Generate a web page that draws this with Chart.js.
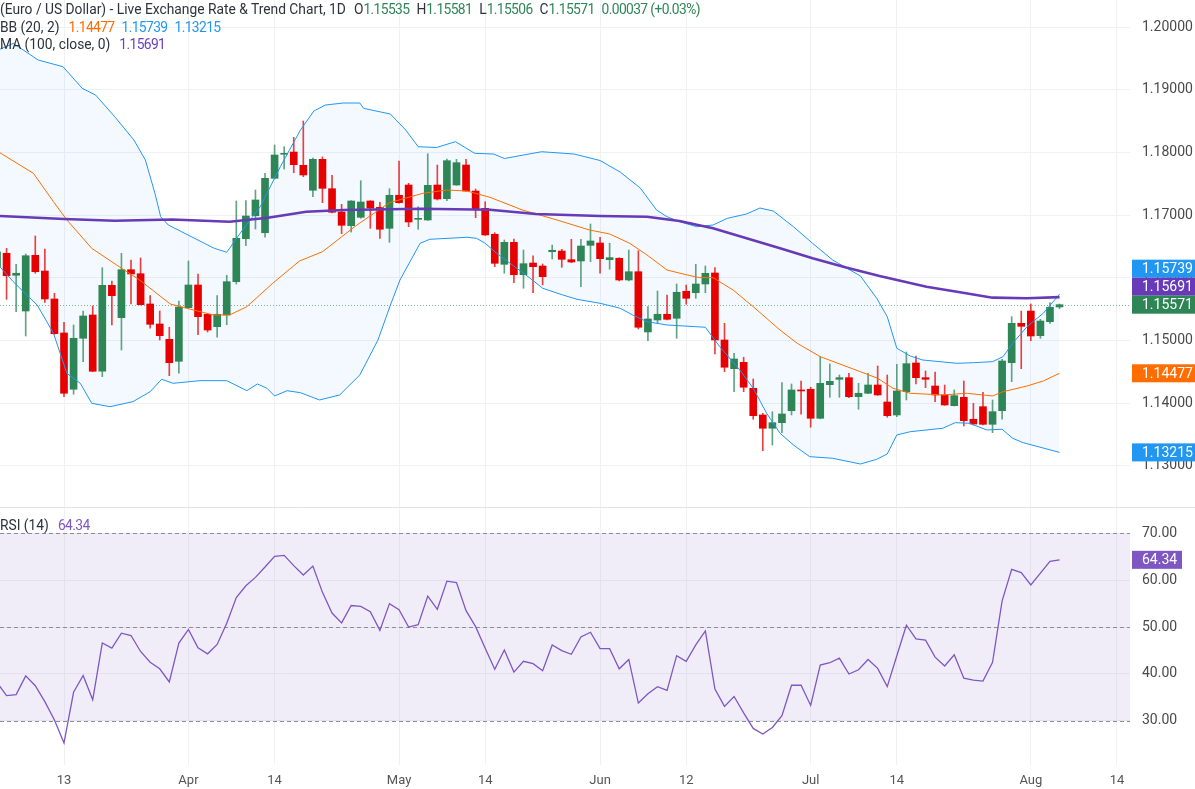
<!DOCTYPE html>
<html><head><meta charset="utf-8">
<script src="https://cdn.jsdelivr.net/npm/chart.js@4.4.1/dist/chart.umd.min.js"></script>
<style>
html,body{margin:0;padding:0;background:#fff;width:1195px;height:789px;overflow:hidden;font-family:Roboto,"Noto Sans",sans-serif;}
#top{position:absolute;left:0;top:0;width:1195px;height:507px;}
#bot{position:absolute;left:0;top:507px;width:1195px;height:282px;}
.lg{position:absolute;left:0;font-size:13.8px;color:#2f323b;white-space:pre;line-height:18px;z-index:5;}
.v{letter-spacing:-0.6px}
.g{color:#2e8556}.k{margin-left:7px}
.o{color:#ff6d00}.b{color:#2196f3}.p{color:#6a3fc0}.r{color:#7e57c2}
</style></head><body>
<div id="top"><canvas id="c1"></canvas></div>
<div id="bot"><canvas id="c2"></canvas></div>
<div class="lg" style="top:0px">(Euro / US Dollar) - Live Exchange Rate &amp; Trend Chart, 1D<span class="k" style="margin-left:8px">O</span><span class="g v">1.15535</span><span class="k">H</span><span class="g v">1.15581</span><span class="k">L</span><span class="g v">1.15506</span><span class="k">C</span><span class="g v">1.15571</span><span class="g v" style="margin-left:7px">0.00037 (+0.03%)</span></div>
<div class="lg" style="top:17.5px">BB (20, 2)<span class="o v" style="margin-left:9px">1.14477</span><span class="b v" style="margin-left:7px">1.15739</span><span class="b v" style="margin-left:7px">1.13215</span></div>
<div class="lg" style="top:35px">MA (100, close, 0)<span class="p v" style="margin-left:9px">1.15691</span></div>
<div class="lg" style="top:516px">RSI (14)<span class="r v" style="margin-left:9px">64.34</span></div>
<script>
// ---- x axis (trading-day index, 0 = Mar 13) ----
const firstIndex = -7;
const tickIdx    = [0, 13, 22, 35, 44, 56, 65, 78, 87, 101, 110];
const tickLabels = ['13','Apr','14','May','14','Jun','12','Jul','14','Aug','14'];
const priceTicks = [1.13,1.14,1.15,1.16,1.17,1.18,1.19,1.20];
const rsiTicks   = [30,40,50,60,70];

// ---- candles (idx -7 .. 104) ----
const opens = [1.16177,1.16391,1.16040,1.15470,1.16359,1.16108,1.15662,
1.15120,1.14222,1.15035,1.15407,1.14509,1.15880,1.15364,1.16129,1.16065,1.15582,1.15263,1.15019,1.14668,1.15523,1.15885,1.15418,1.15220,1.15407,1.15938,1.16624,1.16990,1.16719,
1.17587,1.17970,1.18006,1.17794,1.17396,1.17890,1.17421,1.17049,1.16831,1.16965,1.17225,1.17124,1.16789,1.17316,1.17480,1.16933,1.16922,1.17480,1.17262,1.17480,1.17799,1.17384,
1.17108,1.16694,1.16215,1.16566,1.16049,1.16236,1.16188,1.16416,1.16427,1.16289,1.16268,1.16518,1.16555,1.16289,1.16311,1.15965,1.16097,1.15136,1.15327,1.15418,1.15354,
1.15785,1.15762,1.15901,1.16077,1.15008,1.14550,1.14652,1.14238,1.13812,1.13600,1.13689,1.13880,1.14211,1.14222,1.13759,1.14295,1.14381,1.14407,1.14104,1.14158,1.14290,1.14019,
1.13812,1.14183,1.14641,1.14407,1.14274,1.14131,1.13960,1.14094,1.13743,1.13944,1.13663,1.13880,1.14646,1.15274,1.15470,1.15077,1.15300,1.15535];
const highs = [1.16475,1.16470,1.16215,1.16380,1.16667,1.16459,1.15753,
1.15290,1.15247,1.15470,1.15550,1.16161,1.15949,1.16391,1.16284,1.16316,1.15715,1.15470,1.15211,1.15630,1.16268,1.16061,1.15420,1.15715,1.16040,1.17225,1.17230,1.17400,1.17667,
1.18118,1.18091,1.18241,1.18501,1.17910,1.17927,1.17635,1.17172,1.17230,1.17549,1.17230,1.17204,1.17421,1.17863,1.17507,1.17134,1.17979,1.17799,1.17895,1.17890,1.17890,1.17416,
1.17214,1.16719,1.16603,1.16619,1.16443,1.16352,1.16220,1.16523,1.16455,1.16614,1.16614,1.16858,1.16646,1.16550,1.16321,1.16443,1.16432,1.15539,1.15789,1.15726,1.15901,
1.15885,1.16215,1.16188,1.16161,1.15274,1.14796,1.14732,1.14386,1.13838,1.13864,1.14327,1.14306,1.14354,1.14254,1.14742,1.14625,1.14450,1.14477,1.14317,1.14477,1.14593,1.14450,
1.14620,1.14817,1.14753,1.14514,1.14498,1.14290,1.14211,1.14354,1.13998,1.14174,1.14051,1.14700,1.15380,1.15470,1.15582,1.15338,1.15603,1.15581];
const lows = [1.16124,1.15657,1.15459,1.15072,1.16072,1.15609,1.15100,
1.14104,1.14142,1.14662,1.14500,1.14423,1.15247,1.14848,1.15582,1.15565,1.15195,1.15008,1.14439,1.14477,1.15515,1.15093,1.15136,1.15051,1.15252,1.15901,1.16512,1.16778,1.16646,
1.17576,1.17735,1.17676,1.17612,1.17293,1.17198,1.17035,1.16703,1.16730,1.16950,1.16789,1.16630,1.16566,1.17190,1.16815,1.16774,1.16915,1.17241,1.17230,1.17475,1.17380,1.16959,
1.16675,1.16177,1.16072,1.15922,1.15833,1.15762,1.15885,1.16300,1.16167,1.16240,1.15858,1.16257,1.16072,1.16136,1.15949,1.15950,1.15183,1.14997,1.15274,1.15330,1.15035,
1.15578,1.15673,1.15762,1.14785,1.14502,1.14183,1.14183,1.13743,1.13242,1.13333,1.13530,1.13812,1.13823,1.13616,1.13750,1.14094,1.14094,1.14088,1.13903,1.14150,1.14125,1.13775,
1.13785,1.14051,1.14306,1.14247,1.14024,1.13965,1.13955,1.13636,1.13652,1.13655,1.13530,1.13743,1.14343,1.14550,1.14997,1.15035,1.15274,1.15506];
const closes = [1.16416,1.16033,1.16072,1.16352,1.16097,1.15662,1.15108,
1.14158,1.15035,1.15391,1.14509,1.15880,1.15715,1.16129,1.16061,1.15571,1.15258,1.15077,1.14646,1.15534,1.15885,1.15380,1.15167,1.15418,1.15938,1.16630,1.16986,1.17241,1.17587,
1.17959,1.17986,1.17804,1.17640,1.17890,1.17427,1.17045,1.16837,1.17225,1.17209,1.17113,1.16774,1.17316,1.17198,1.16890,1.16943,1.17475,1.17257,1.17868,1.17836,1.17384,1.17097,
1.16683,1.16231,1.16566,1.16049,1.16225,1.16177,1.16018,1.16439,1.16295,1.16252,1.16507,1.16587,1.16305,1.16321,1.15965,1.16097,1.15211,1.15343,1.15418,1.15338,1.15769,
1.15673,1.15901,1.16072,1.15008,1.14573,1.14705,1.14254,1.13801,1.13600,1.13689,1.13828,1.14211,1.14195,1.13759,1.14317,1.14349,1.14407,1.14104,1.14158,1.14290,1.14131,1.13801,
1.14195,1.14630,1.14407,1.14381,1.14131,1.13971,1.14120,1.13721,1.13668,1.13663,1.13864,1.14673,1.15274,1.15226,1.15072,1.15311,1.15530,1.15571];

// ---- indicators: [index, value] ----
const ma100 = [[-6.7,1.16986],[0,1.16938],[5.3,1.16911],[11.3,1.16930],[17.3,1.16895],[21.3,1.16959],[25.3,1.17054],[29.2,1.17081],[37.3,1.17102],[44.5,1.17086],[49.3,1.17018],[56,1.16986],[60.9,1.16974],[64.3,1.16906],[67.8,1.16789],[71.3,1.16630],[74.8,1.16470],[78.2,1.16311],[81.8,1.16161],[85.2,1.16029],[90.1,1.15858],[93.6,1.15769],[97,1.15683],[100.6,1.15673],[104,1.15691]];
const bbMid = [[-6.7,1.17995],[-3.2,1.17667],[-1.1,1.17214],[0.3,1.16922],[2.9,1.16470],[5.5,1.16204],[7.9,1.15965],[11.1,1.15582],[12.8,1.15514],[15.6,1.15407],[17.3,1.15407],[19.1,1.15539],[21.8,1.15912],[24.6,1.16268],[27,1.16416],[30.6,1.16842],[34,1.17198],[37.5,1.17348],[40,1.17400],[42.1,1.17384],[44.5,1.17284],[47.9,1.17081],[51.5,1.16922],[54.9,1.16762],[57,1.16699],[59.1,1.16550],[60.9,1.16364],[63,1.16124],[65.1,1.16045],[66.4,1.16002],[67.8,1.16002],[69.9,1.15805],[72,1.15539],[74.8,1.15167],[76.6,1.14955],[79,1.14742],[81.8,1.14582],[83.2,1.14502],[85,1.14397],[86.6,1.14238],[88.4,1.14158],[91.8,1.14131],[94.3,1.14158],[97,1.14115],[98.1,1.14183],[100.6,1.14274],[102.3,1.14354],[104,1.14477]];
const bbUpper = [[-6.7,1.19644],[-5.3,1.19740],[-2.7,1.19474],[-0.1,1.19367],[1.9,1.19022],[3.3,1.18915],[5.3,1.18569],[7.3,1.18198],[8.5,1.17879],[9.5,1.17348],[10.1,1.16974],[10.9,1.16842],[13.3,1.16656],[15.7,1.16470],[17,1.16407],[18.4,1.16710],[20.5,1.17134],[22.6,1.17772],[24.7,1.18357],[26.1,1.18660],[27.3,1.18756],[29.2,1.18788],[30.9,1.18788],[31.3,1.18703],[34.1,1.18612],[35.7,1.18357],[37,1.18091],[38.9,1.18078],[40.9,1.18171],[42.9,1.17986],[44.9,1.17974],[46,1.17903],[49.9,1.18011],[53.3,1.17974],[56,1.17871],[58.1,1.17687],[60.2,1.17432],[61.9,1.17081],[63,1.16974],[64.3,1.16895],[66.1,1.16815],[67.8,1.16842],[69.3,1.16949],[71.3,1.17018],[72.7,1.17113],[74.1,1.17065],[76.2,1.16815],[78.2,1.16550],[80.3,1.16284],[83.2,1.16029],[84.9,1.15673],[86,1.15380],[87,1.14876],[88.4,1.14753],[89.7,1.14689],[93.3,1.14636],[95,1.14646],[97,1.14662],[98.1,1.14742],[99.1,1.14955],[100.6,1.15220],[102.3,1.15434],[104,1.15739]];
const bbLower = [[-6.7,1.16177],[-5.3,1.15938],[-3.9,1.15726],[-2.8,1.15566],[-1.1,1.15115],[0.3,1.14477],[1.7,1.14317],[2.9,1.13998],[4.8,1.13944],[7.2,1.14024],[9,1.14183],[10.2,1.14381],[11.4,1.14317],[14.2,1.14359],[17,1.14359],[19.1,1.14199],[20.2,1.14306],[21.2,1.14238],[22,1.14115],[23.3,1.14199],[24.7,1.14167],[26.7,1.14051],[28.8,1.14131],[30.9,1.14450],[32.8,1.15008],[34.1,1.15566],[35.1,1.15965],[37.2,1.16550],[38.2,1.16614],[42.1,1.16646],[43.1,1.16630],[44,1.16550],[45.2,1.16391],[47.3,1.16152],[48.7,1.15992],[50,1.15833],[52.1,1.15726],[53.6,1.15657],[56,1.15593],[58.1,1.15514],[59.4,1.15407],[60.9,1.15300],[63,1.15247],[67,1.15211],[68.5,1.14901],[70.6,1.14530],[72,1.14238],[73.4,1.13839],[74.8,1.13520],[76.2,1.13333],[77.9,1.13147],[80.3,1.13121],[83.2,1.13030],[84.9,1.13105],[86,1.13190],[87,1.13493],[88.4,1.13545],[91.8,1.13600],[93.1,1.13689],[94.6,1.13679],[96.4,1.13573],[98,1.13584],[99.1,1.13440],[100.2,1.13370],[104,1.13215]];
const rsi14 = [38.2,35.4,35.6,39.6,37.5,34.1,30.2,
25.3,36.1,39.7,34.5,46.6,45.5,48.7,48.2,44.8,42.5,41.1,38.3,46.6,49.5,45.6,44.3,46.3,50.8,56.3,58.8,60.6,62.8,
65.1,65.3,63.1,61.1,63.0,57.4,53.0,50.9,54.6,54.4,53.3,49.3,55.0,53.7,50.0,50.5,56.6,53.8,59.8,59.5,53.5,50.1,
45.5,41.0,45.1,40.4,42.7,42.2,40.7,46.2,45.0,44.2,47.9,48.9,45.4,45.4,41.1,43.1,33.8,35.8,37.3,36.5,43.9,
42.7,46.2,49.2,36.8,33.1,35.2,31.7,28.4,27.2,28.6,31.1,37.6,37.6,33.3,41.9,42.4,43.4,40.0,40.9,43.1,41.2,37.3,
43.9,50.4,47.5,47.2,43.6,41.7,44.1,39.1,38.7,38.5,42.5,55.6,62.3,61.6,59.0,61.5,64.0,64.34];

const GREEN='#2e8556', RED='#e60000', BLUE='#2196f3', ORANGE='#ff6d00', MAC='#673ab7', RSIC='#7e57c2';
const X_MIN=-6.686, X_MAX=111.36, AXIS_W=65;
const isUp = i => closes[i] >= opens[i];
const pts = arr => arr.map(p => ({x:p[0], y:p[1]}));
const last = a => a[a.length-1][1];

function xScale(show){
  return {type:'linear', min:X_MIN, max:X_MAX, offset:false,
    afterBuildTicks:s=>{s.ticks=tickIdx.map(v=>({value:v}));},
    afterFit:s=>{s.paddingLeft=0; s.paddingRight=0; s.height = show ? 24 : 0;},
    ticks:{display:show, autoSkip:false, maxRotation:0, padding:8, color:'#555', font:{size:13, family:'Roboto'},
      callback:(v,i)=>tickLabels[i]},
    grid:{color:'#f0f1f5', drawTicks:false, offset:false}, border:{display:false}};
}
function yFit(s){ s.width=AXIS_W; s.paddingTop=0; s.paddingBottom=0; }

const topDeco = {
  id:'topDeco',
  beforeDatasetsDraw(chart){
    const {ctx, chartArea:a, scales:{y}} = chart;
    const py = Math.round(y.getPixelForValue(closes[closes.length-1]))+0.5;
    ctx.save(); ctx.strokeStyle='rgba(46,133,86,0.6)'; ctx.lineWidth=1; ctx.setLineDash([1,2]);
    ctx.beginPath(); ctx.moveTo(a.left,py); ctx.lineTo(a.right,py); ctx.stroke(); ctx.restore();
  },
  afterDraw(chart){
    const {ctx, chartArea:a, scales:{y}} = chart;
    const tags=[{v:last(bbUpper),c:BLUE},{v:last(ma100),c:MAC},{v:closes[closes.length-1],c:GREEN},{v:last(bbMid),c:ORANGE},{v:last(bbLower),c:BLUE}]
      .map(t=>({...t,p:y.getPixelForValue(t.v)})).sort((m,n)=>m.p-n.p);
    const h=18;
    for(let i=tags.length-2;i>=0;i--){ if(tags[i].p>tags[i+1].p-h) tags[i].p=tags[i+1].p-h; }
    ctx.save();
    tags.forEach(t=>{ ctx.fillStyle=t.c; ctx.fillRect(a.right+2, t.p-h/2, chart.width-a.right-2, h);
      ctx.fillStyle='#fff'; ctx.font='14px Roboto'; ctx.textBaseline='middle'; ctx.textAlign='left';
      ctx.fillText(t.v.toFixed(5), a.right+12, t.p+1); });
    ctx.restore();
  }
};

const xs = opens.map((_,i)=>i+firstIndex);
new Chart(document.getElementById('c1'), {
  type:'bar',
  data:{datasets:[
    {type:'line', data:pts(ma100), borderColor:MAC, borderWidth:2.6, pointRadius:0, fill:false},
    {type:'line', data:pts(bbUpper), borderColor:BLUE, borderWidth:1, pointRadius:0, fill:'+1', backgroundColor:'rgba(33,150,243,0.055)'},
    {type:'line', data:pts(bbLower), borderColor:BLUE, borderWidth:1, pointRadius:0, fill:false},
    {type:'line', data:pts(bbMid), borderColor:ORANGE, borderWidth:1, pointRadius:0, fill:false},
    {data:xs.map((x,i)=>({x, y:[opens[i], closes[i]]})), grouped:false, barThickness:7, minBarLength:1,
      backgroundColor:c=>isUp(c.dataIndex)?GREEN:RED, borderWidth:0},
    {data:xs.map((x,i)=>({x, y:[lows[i], highs[i]]})), grouped:false, barThickness:1,
      backgroundColor:c=>isUp(c.dataIndex)?'rgba(46,133,86,0.75)':'rgba(230,0,0,0.75)', borderWidth:0}
  ]},
  options:{responsive:true, maintainAspectRatio:false, animation:false, layout:{padding:0, autoPadding:false},
    plugins:{legend:{display:false}, tooltip:{enabled:false}, filler:{drawTime:'beforeDatasetsDraw'}},
    scales:{
      x:xScale(false),
      y:{position:'right', min:1.12344, max:1.20431,
        afterBuildTicks:s=>{s.ticks=priceTicks.map(v=>({value:v}));},
        afterFit:yFit,
        ticks:{callback:v=>v.toFixed(5), color:'#4a4a4a', font:{size:14, family:'Roboto'}, padding:12},
        grid:{color:'#f0f1f5', drawTicks:false}, border:{display:false}}
    }},
  plugins:[topDeco]
});

const botDeco = {
  id:'botDeco',
  beforeDatasetsDraw(chart){
    const {ctx, chartArea:a, scales:{y}} = chart;
    const y70=y.getPixelForValue(70), y30=y.getPixelForValue(30);
    ctx.save(); ctx.fillStyle='rgba(126,87,194,0.11)'; ctx.fillRect(a.left,y70,a.right-a.left,y30-y70);
    ctx.strokeStyle='#8a8d96'; ctx.lineWidth=1; ctx.setLineDash([4,3]);
    [70,50,30].forEach(v=>{const p=Math.round(y.getPixelForValue(v))+0.5; ctx.beginPath(); ctx.moveTo(a.left,p); ctx.lineTo(a.right,p); ctx.stroke();});
    ctx.restore();
  },
  afterDraw(chart){
    const {ctx, chartArea:a, scales:{y}} = chart;
    ctx.save(); ctx.strokeStyle='#e0e3eb'; ctx.lineWidth=1; ctx.beginPath(); ctx.moveTo(0,0.5); ctx.lineTo(chart.width,0.5); ctx.stroke();
    const v=rsi14[rsi14.length-1], p=y.getPixelForValue(v), h=18;
    ctx.fillStyle=RSIC; ctx.fillRect(a.right+2,p-h/2,50,h);
    ctx.fillStyle='#fff'; ctx.font='14px Roboto'; ctx.textBaseline='middle'; ctx.textAlign='left';
    ctx.fillText(v.toFixed(2), a.right+12, p+1);
    ctx.restore();
  }
};

new Chart(document.getElementById('c2'), {
  type:'line',
  data:{datasets:[{data:xs.map((x,i)=>({x, y:rsi14[i]})), borderColor:RSIC, borderWidth:1.3, pointRadius:0, fill:false}]},
  options:{responsive:true, maintainAspectRatio:false, animation:false, layout:{padding:0, autoPadding:false},
    plugins:{legend:{display:false}, tooltip:{enabled:false}},
    scales:{
      x:xScale(true),
      y:{position:'right', min:20.6, max:75.6,
        afterBuildTicks:s=>{s.ticks=rsiTicks.map(v=>({value:v}));},
        afterFit:yFit,
        ticks:{callback:v=>v.toFixed(2), color:'#4a4a4a', font:{size:14, family:'Roboto'}, padding:12},
        grid:{color:'#f0f1f5', drawTicks:false}, border:{display:false}}
    }},
  plugins:[botDeco]
});
</script>
</body></html>
